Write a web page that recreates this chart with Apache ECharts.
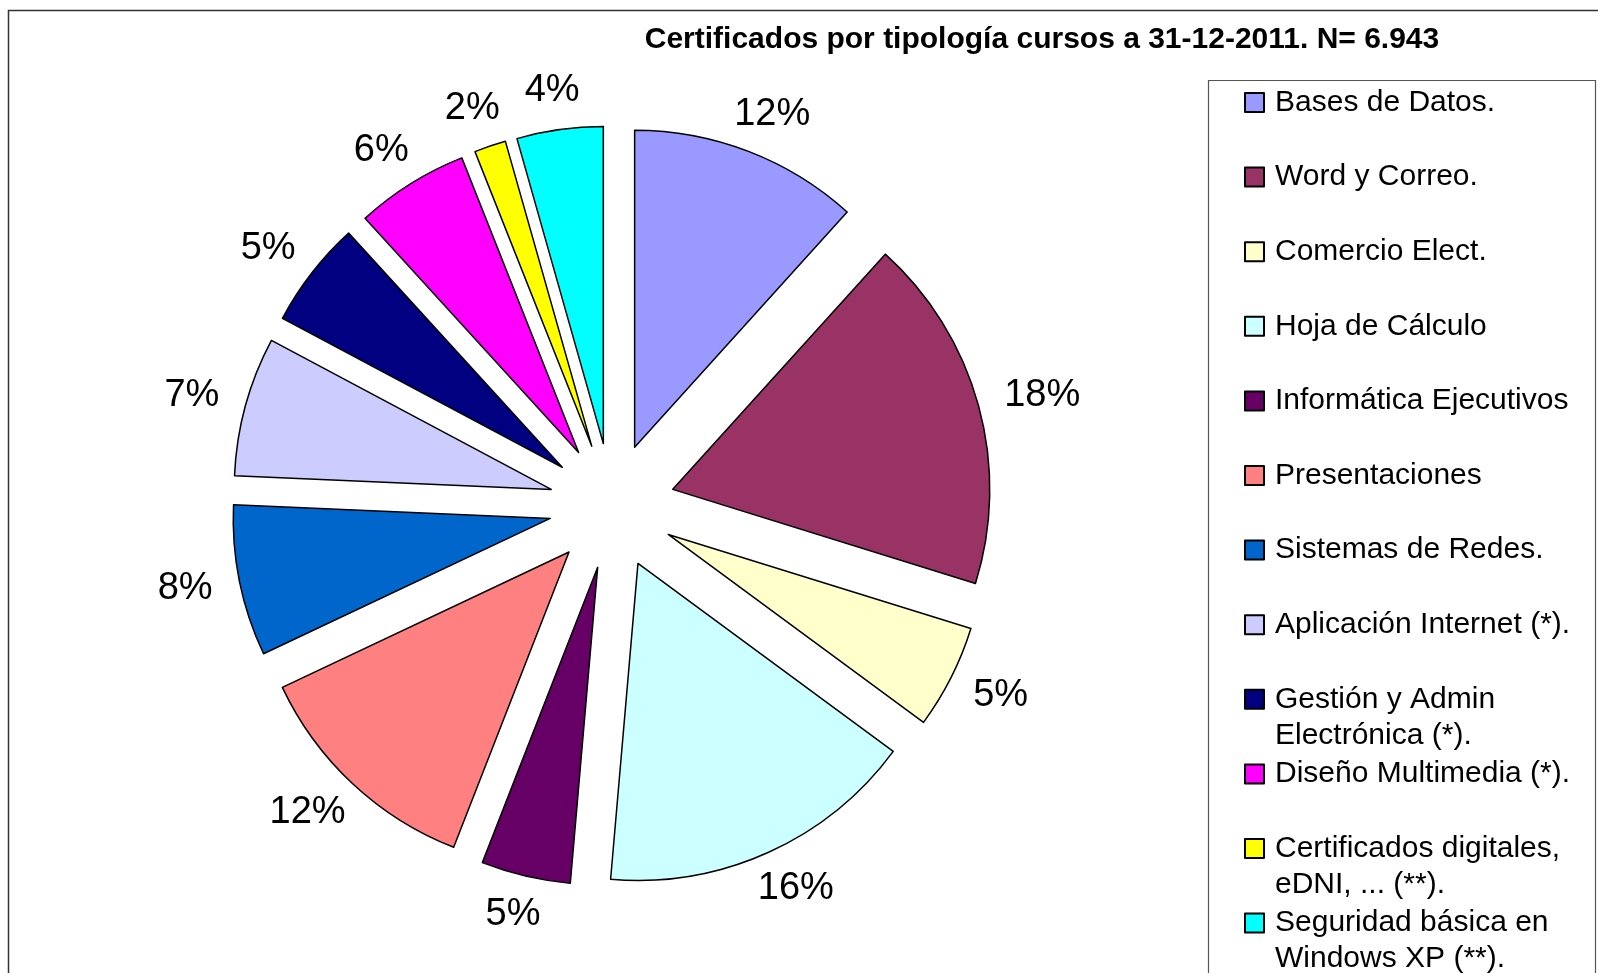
<!DOCTYPE html>
<html>
<head>
<meta charset="utf-8">
<title>Certificados por tipología</title>
<script src="https://cdn.jsdelivr.net/npm/echarts@6/dist/echarts.min.js"></script>
<style>
  html, body { margin: 0; padding: 0; background: #fff; }
  #main { width: 1598px; height: 973px; }
</style>
</head>
<body>
<div id="main"></div>
<script type="text/javascript">
// categorias (con el salto de linea de la leyenda)
var categories = [
    'Bases de Datos.',
    'Word y Correo.',
    'Comercio Elect.',
    'Hoja de Cálculo',
    'Informática Ejecutivos',
    'Presentaciones',
    'Sistemas de Redes.',
    'Aplicación Internet (*).',
    'Gestión y Admin\nElectrónica (*).',
    'Diseño Multimedia (*).',
    'Certificados digitales,\neDNI, ... (**).',
    'Seguridad básica en\nWindows XP (**).'
];
// certificados por tipologia (total 6.943), estimados de los sectores
var counts = [812, 1257, 368, 1130, 316, 837, 535, 493, 378, 400, 112, 305];
var colors = ['#9999FF', '#993366', '#FFFFCC', '#CCFFFF', '#660066', '#FF8080',
              '#0066CC', '#CCCCFF', '#000080', '#FF00FF', '#FFFF00', '#00FFFF'];
var titleText = 'Certificados por tipología cursos a 31-12-2011. N= 6.943';

var font = "'Liberation Sans', Arial, sans-serif";
var pieCenter = [612, 506];
var legendTop0 = 84.5, legendStep = 74.6, legendLine = 36, box = 19;

var myChart = echarts.init(document.getElementById('main'));

var legends = categories.map(function (name, i) {
    var lines = name.split('\n').length;
    var h = box + legendLine * (lines - 1);
    // el cuadro queda a la altura de la primera linea del texto
    var icon = lines > 1 ? 'path://M0,0h' + box + 'v' + box + 'h-' + box + 'z M0,' + h + 'h0.01' : 'rect';
    return {
        data: [name],
        orient: 'vertical',
        left: 1244,
        top: legendTop0 + i * legendStep,
        padding: 0,
        icon: icon,
        itemWidth: box,
        itemHeight: h,
        selectedMode: false,
        textStyle: {
            fontFamily: font,
            fontSize: 30,
            color: '#000',
            lineHeight: legendLine,
            padding: [0, 0, 0, 6]
        }
    };
});

var option = {
    animation: false,
    backgroundColor: '#fff',
    graphic: [
        {
            type: 'rect',
            shape: { x: 8.5, y: 10.5, width: 1700, height: 1100 },
            style: { fill: null, stroke: '#333', lineWidth: 1.5 },
            silent: true
        },
        {
            type: 'rect',
            shape: { x: 1208.5, y: 80.5, width: 387, height: 1000 },
            style: { fill: null, stroke: '#555', lineWidth: 1.2 },
            silent: true
        },
        {
            type: 'text',
            x: 1042,
            y: 40,
            style: {
                text: titleText,
                fill: '#000',
                font: 'bold 30px ' + font,
                align: 'center',
                verticalAlign: 'middle'
            },
            silent: true
        }
    ],
    legend: legends,
    series: [{
        type: 'pie',
        center: pieCenter,
        radius: 317,
        startAngle: 90,
        clockwise: true,
        selectedMode: 'multiple',
        selectedOffset: 63,
        avoidLabelOverlap: false,
        itemStyle: { borderColor: '#000', borderWidth: 1.5 },
        emphasis: { disabled: true },
        label: {
            position: 'outside',
            fontFamily: font,
            fontSize: 38,
            color: '#000',
            distanceToLabelLine: 0,
            formatter: function (p) { return Math.round(p.percent) + '%'; }
        },
        labelLine: { show: false, length: 28, length2: 0 },
        // etiqueta apoyada por su borde en el punto radial (como Excel)
        labelLayout: function (p) {
            var r = p.labelRect, w = r.width, h = r.height * 0.6;
            var px = p.align === 'left' ? r.x : r.x + w;
            var py = r.y + r.height / 2;
            var vx = px - pieCenter[0], vy = py - pieCenter[1];
            var len = Math.sqrt(vx * vx + vy * vy) || 1;
            var cx = px + vx / len * w / 2, cy = py + vy / len * h / 2;
            return { dx: cx - (r.x + w / 2), dy: cy - py };
        },
        data: categories.map(function (name, i) {
            return { name: name, value: counts[i], selected: true, itemStyle: { color: colors[i] } };
        })
    }]
};

myChart.setOption(option);
</script>
</body>
</html>
